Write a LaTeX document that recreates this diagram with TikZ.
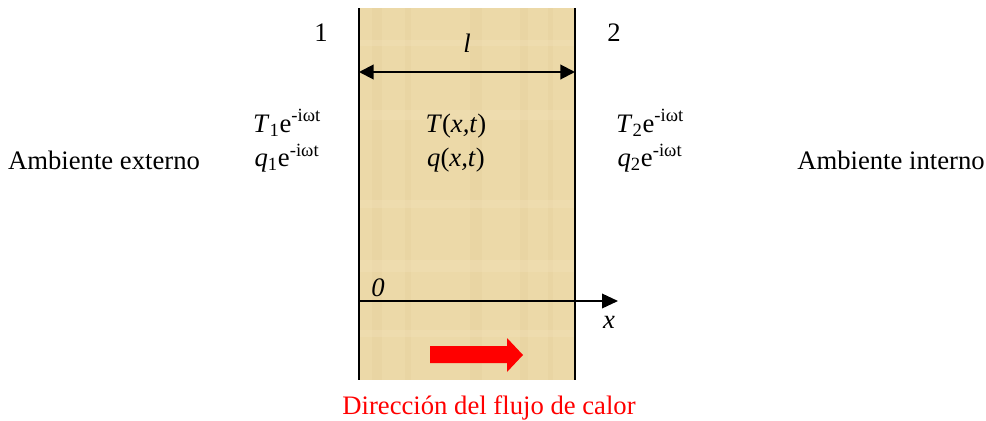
\documentclass[tikz,border=0pt]{standalone}
\usepackage{fontspec}
\setmainfont{Liberation Serif}
\usetikzlibrary{arrows.meta}
\definecolor{papyrus}{RGB}{236,217,168}
\definecolor{papyrusdark}{RGB}{226,204,150}
\definecolor{papyruslight}{RGB}{244,229,190}
\definecolor{heatred}{RGB}{255,0,0}
\tikzset{
  lbl/.style={font=\fontsize{20}{22}\selectfont, inner sep=0pt},
  redlbl/.style={lbl, text=heatred},
  wall/.style={line width=1.5pt, draw=black},
  dim/.style={line width=1.5pt, {Triangle[width=11pt,length=11pt]}-{Triangle[width=11pt,length=11pt]}},
  axis/.style={line width=1.1pt, -{Triangle[width=11pt,length=12pt]}},
  heat/.style={fill=heatred, draw=none}
}
\newcommand{\mysup}[1]{\textsuperscript{#1}}
\newcommand{\mysub}[1]{\textsubscript{#1}}
\begin{document}
\begin{tikzpicture}[x=0.75pt,y=-0.75pt]
\useasboundingbox (0,0) rectangle (986,421);
% slab
\fill[papyrus] (359,8) rectangle (575,380);
\foreach \xa/\wa in {372/10,405/6,470/12,520/8,548/5}{
  \fill[papyrusdark, opacity=0.25] (\xa,8) rectangle ++(\wa,372);
}
\foreach \ya/\ha in {40/6,110/10,200/8,260/12,330/7}{
  \fill[papyruslight, opacity=0.3] (359,\ya) rectangle ++(216,\ha);
}
\draw[wall] (359,8) -- (359,380);
\draw[wall] (575,8) -- (575,380);
% coordinates
\coordinate (L) at (359,72);
\coordinate (R) at (575,72);
\coordinate (O) at (359,301);
\coordinate (X) at (618,301);
% labels
\node[lbl] (n1) at (321,33) {1};
\node[lbl] (n2) at (614,33) {2};
\node[lbl] (len) at (467,43) {\textit{l}};
\draw[dim] (L) -- (R);
\node[lbl, align=center] (left) at (287,141) {\textit{T}\mysub{1}e\mysup{-iωt}\\[4pt]\textit{q}\mysub{1}e\mysup{-iωt}};
\node[lbl, align=center] (mid) at (456,143) {\textit{T}(\textit{x,t})\\[4pt]\textit{q}(\textit{x,t})};
\node[lbl, align=center] (right) at (650,141) {\textit{T}\mysub{2}e\mysup{-iωt}\\[4pt]\textit{q}\mysub{2}e\mysup{-iωt}};
\node[lbl] (ext) at (104,160) {Ambiente externo};
\node[lbl] (int) at (891,160) {Ambiente interno};
\draw[axis] (O) -- (X);
\node[lbl] (zero) at (378,288) {\textit{0}};
\node[lbl] (xlab) at (609,322) {\textit{x}};
% heat arrow
\fill[heat] (430,346) -- (507,346) -- (507,338) -- (523,355) -- (507,372) -- (507,363) -- (430,363) -- cycle;
\node[redlbl] (dir) at (489,408) {Dirección del flujo de calor};
\end{tikzpicture}
\end{document}
